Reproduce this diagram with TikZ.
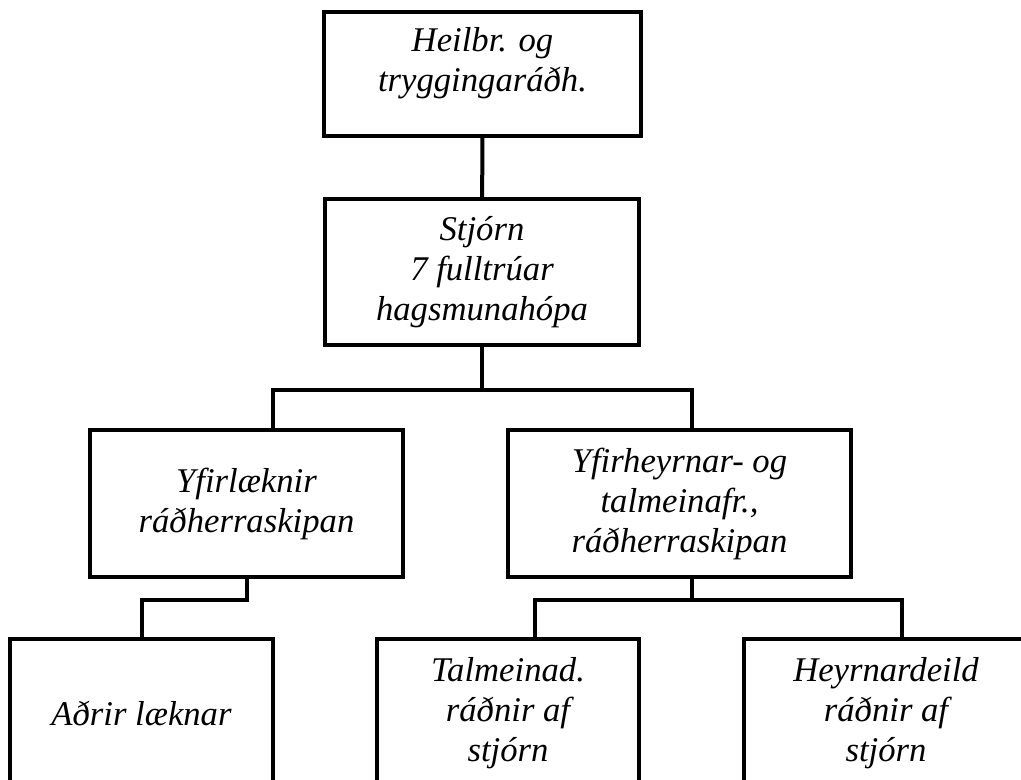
\documentclass[tikz,border=0pt]{standalone}
\usepackage{fontspec}
\setmainfont{Liberation Serif}
\usepackage{tikz}
\usetikzlibrary{calc}
\tikzset{orgbox/.style={draw, line width=3pt, inner sep=0pt, align=center,
           font=\fontsize{26}{30}\selectfont\itshape},
         link/.style={line width=3pt}}

\begin{document}
\begin{tikzpicture}[x=0.75pt, y=-0.75pt]
  \useasboundingbox (0,0) rectangle (1021,780);
  \clip (0,0) rectangle (1021,780);
  % boxes
  \node[orgbox, minimum width=237.75pt, minimum height=93pt]
    (minister) at (482.5,74)
    {\raisebox{1.5pt}[0pt][0pt]{\begin{tabular}{c}Heilbr. og\\tryggingaráðh.\end{tabular}}};
  \node[orgbox, minimum width=235.5pt, minimum height=109.5pt]
    (board) at (482,272) {Stjórn\\7 fulltrúar\\hagsmunahópa};
  \node[orgbox, minimum width=234.75pt, minimum height=110.25pt]
    (chief) at (246.5,503.5) {Yfirlæknir\\ráðherraskipan};
  \node[orgbox, minimum width=257.25pt, minimum height=110.25pt]
    (audio) at (679.5,503.5) {Yfirheyrnar- og\\talmeinafr.,\\ráðherraskipan};
  \node[orgbox, minimum width=197.25pt, minimum height=111pt]
    (doctors) at (141.5,713) {Aðrir læknar};
  \node[orgbox, minimum width=196.5pt, minimum height=111pt]
    (speech) at (508,713) {Talmeinad.\\ráðnir af\\stjórn};
  \node[orgbox, minimum width=213pt, minimum height=111pt]
    (hearing) at (886,713) {Heyrnardeild\\ráðnir af\\stjórn};
  % connectors
  \draw[link] (minister) -- (board);
  \draw[link] (board.south) -- ++(0,43) -| ($(chief.north)+(26.5,0)$);
  \draw[link] (board.south) -- ++(0,43) -| ($(audio.north)+(12.5,0)$);
  \draw[link] (chief.south) -- ++(0,21) -| (doctors.north);
  \draw[link] ($(audio.south)+(12.5,0)$) -- ++(0,21) -| ($(speech.north)+(27,0)$);
  \draw[link] ($(audio.south)+(12.5,0)$) -- ++(0,21) -| ($(hearing.north)+(16,0)$);
\end{tikzpicture}
\end{document}
